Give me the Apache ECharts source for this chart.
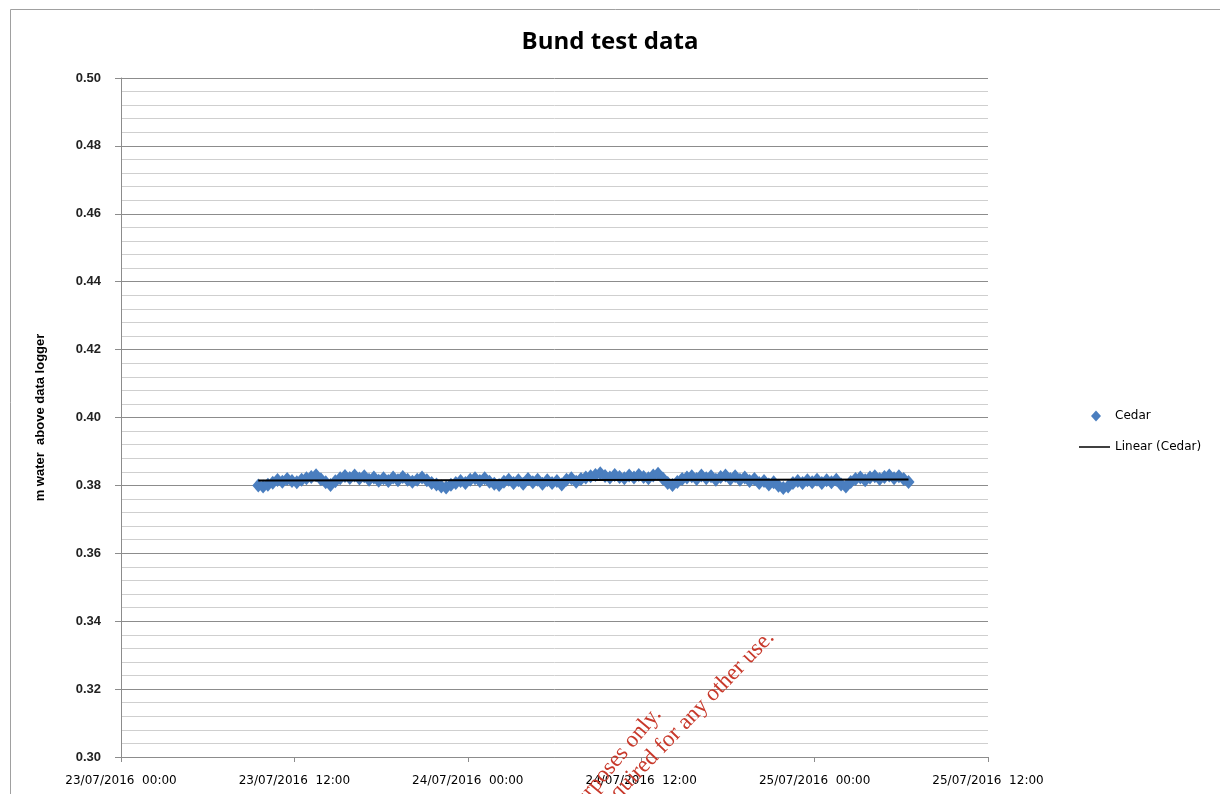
<!DOCTYPE html>
<html>
<head>
<meta charset="utf-8">
<script src="https://cdn.jsdelivr.net/npm/echarts@6/dist/echarts.min.js"></script>
<style>html,body{margin:0;padding:0;background:#fff;}#c{width:1220px;height:794px;}</style>
</head>
<body>
<div id="c"></div>
<script>
// x tick labels (every 12 hours from 23/07/2016 00:00)
const xTickLabels = ['23/07/2016  00:00','23/07/2016  12:00','24/07/2016  00:00','24/07/2016  12:00','25/07/2016  00:00','25/07/2016  12:00'];
// logger readings: first reading at 09:30 on 23/07 (hours from axis origin), one reading per 20 minutes
const startHour = 9.5;
const stepHours = 1 / 3;
const cedar = [
0.3800,0.3797,0.3802,0.3808,0.3816,0.3811,0.3819,0.3813,0.3809,0.3817,
0.3821,0.3825,0.3830,0.3818,0.3809,0.3801,0.3812,0.3821,0.3828,0.3822,
0.3829,0.3820,0.3827,0.3817,0.3823,0.3814,0.3821,0.3813,0.3823,0.3815,
0.3825,0.3817,0.3811,0.3817,0.3823,0.3815,0.3807,0.3803,0.3797,0.3794,
0.3802,0.3807,0.3813,0.3807,0.3817,0.3821,0.3813,0.3821,0.3811,0.3805,
0.3801,0.3811,0.3817,0.3807,0.3815,0.3805,0.3819,0.3809,0.3817,0.3805,
0.3815,0.3807,0.3813,0.3803,0.3817,0.3821,0.3811,0.3819,0.3823,0.3827,
0.3831,0.3836,0.3828,0.3823,0.3831,0.3825,0.3821,0.3829,0.3823,0.3831,
0.3825,0.3821,0.3829,0.3834,0.3820,0.3807,0.3801,0.3810,0.3819,0.3823,
0.3827,0.3819,0.3829,0.3821,0.3827,0.3817,0.3825,0.3829,0.3819,0.3827,
0.3817,0.3823,0.3813,0.3819,0.3807,0.3813,0.3803,0.3809,0.3799,0.3792,
0.3797,0.3807,0.3813,0.3807,0.3815,0.3809,0.3817,0.3807,0.3815,0.3809,
0.3817,0.3803,0.3797,0.3810,0.3819,0.3823,0.3815,0.3823,0.3827,0.3819,
0.3825,0.3829,0.3821,0.3827,0.3819,0.3810
];

const pts = cedar.map((v, i) => [startHour + i * stepHours, v]);
// least-squares linear trend of the readings
const n = pts.length;
let sx = 0, sy = 0, sxx = 0, sxy = 0;
pts.forEach(p => { sx += p[0]; sy += p[1]; sxx += p[0] * p[0]; sxy += p[0] * p[1]; });
const slope = (n * sxy - sx * sy) / (n * sxx - sx * sx);
const icpt = (sy - slope * sx) / n;
const x0 = pts[0][0], x1 = pts[n - 1][0];
const trend = [[x0, icpt + slope * x0], [x1, icpt + slope * x1]];

const chart = echarts.init(document.getElementById('c'));
chart.setOption({
  animation: false,
  backgroundColor: '#fff',
  title: {
    text: 'Bund test data', left: 'center', top: 25,
    textStyle: { fontFamily: 'Open Sans', fontSize: 24, fontWeight: 'bold', color: '#000' }
  },
  legend: [
    {
      orient: 'vertical', left: 1086, top: 405, itemWidth: 10, itemHeight: 11,
      textStyle: { fontFamily: 'DejaVu Sans', fontSize: 12, color: '#000', padding: [0, 0, 0, 9] },
      data: [{ name: 'Cedar', icon: 'diamond', itemStyle: { color: '#4a7ebf' } }]
    },
    {
      orient: 'vertical', left: 1074, top: 436, itemWidth: 31, itemHeight: 1.5,
      textStyle: { fontFamily: 'DejaVu Sans', fontSize: 12, color: '#000' },
      data: [{ name: 'Linear (Cedar)', icon: 'rect', itemStyle: { color: '#000' } }]
    }
  ],
  grid: { left: 121, right: 232, top: 78, bottom: 37, containLabel: false },
  xAxis: {
    type: 'value', min: 0, max: 60, interval: 12,
    axisLine: { show: true, lineStyle: { color: '#8c8c8c' } },
    axisTick: { show: true, length: 5, lineStyle: { color: '#8c8c8c' } },
    splitLine: { show: false },
    axisLabel: {
      margin: 18, color: '#000', fontFamily: 'DejaVu Sans', fontSize: 12,
      formatter: v => xTickLabels[Math.round(v / 12)]
    }
  },
  yAxis: {
    type: 'value', min: 0.30, max: 0.50, interval: 0.02,
    name: 'm water  above data logger', nameLocation: 'middle', nameGap: 74, nameRotate: 90,
    nameTextStyle: { fontFamily: 'Liberation Sans', fontSize: 13, fontWeight: 'bold', color: '#000' },
    axisLine: { show: true, lineStyle: { color: '#8c8c8c' } },
    axisTick: { show: true, length: 6, lineStyle: { color: '#8c8c8c' } },
    minorTick: { show: false, splitNumber: 5 },
    splitLine: { show: true, lineStyle: { color: '#8c8c8c', width: 1 } },
    minorSplitLine: { show: true, lineStyle: { color: '#cfcfcf', width: 1 } },
    axisLabel: {
      margin: 20, color: '#222', fontFamily: 'Liberation Sans', fontSize: 13, fontWeight: 'bold',
      formatter: v => v.toFixed(2)
    }
  },
  series: [
    {
      name: 'Cedar', type: 'scatter', data: pts, symbol: 'diamond', symbolSize: [12, 14],
      itemStyle: { color: '#4a7ebf', opacity: 1 }, z: 2
    },
    {
      name: 'Linear (Cedar)', type: 'line', data: trend, symbol: 'none',
      lineStyle: { color: '#000', width: 2 }, itemStyle: { color: '#000' }, z: 3
    }
  ],
  graphic: [
    { type: 'rect', shape: { x: 10.5, y: 9.5, width: 1400, height: 1000 }, style: { fill: 'none', stroke: '#a0a0a0', lineWidth: 1 }, silent: true, z: -10 },
    { type: 'text', x: 666, y: 718, rotation: 50 * Math.PI / 180,
      style: { text: 'For reference purposes only.', font: '23px "Liberation Serif"', fill: '#c8392b', textAlign: 'right', textVerticalAlign: 'bottom' }, z: 100 },
    { type: 'text', x: 779, y: 642, rotation: 46 * Math.PI / 180,
      style: { text: 'Permission required for any other use.', font: '23px "Liberation Serif"', fill: '#c8392b', textAlign: 'right', textVerticalAlign: 'bottom' }, z: 100 }
  ]
});
</script>
</body>
</html>
